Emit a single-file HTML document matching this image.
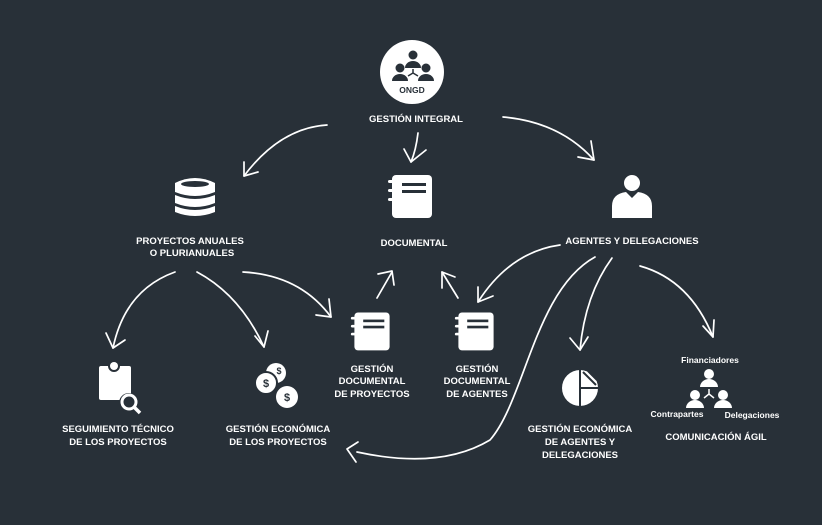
<!DOCTYPE html>
<html><head><meta charset="utf-8"><style>
html,body{margin:0;padding:0;background:#283038;}
svg{display:block}
text{font-family:"Liberation Sans",sans-serif;font-weight:bold;fill:#fff;font-size:9.5px;text-anchor:middle}
</style></head><body>
<svg width="822" height="525" viewBox="0 0 822 525" xmlns="http://www.w3.org/2000/svg">
<rect width="822" height="525" fill="#283038"/>
<g fill="none" stroke="#fff" stroke-width="1.7" stroke-linecap="round" stroke-linejoin="round">
<path d="M327,125 Q280,128 244,176"/><path d="M244,162 L244,176 L258,172"/>
<path d="M418,133 Q416,150 411,162"/><path d="M404,149 L411,162 L426,150"/>
<path d="M503,117 Q560,122 594,160"/><path d="M591,141 L594,160 L578,157"/>
<path d="M175,272 Q125,290 113,348"/><path d="M106,333 L113,348 L125,340"/>
<path d="M197,272 Q240,295 264,347"/><path d="M255,336 L264,347 L268,331"/>
<path d="M243,272 Q300,275 331,317"/><path d="M316,315 L331,317 L329,299"/>
<path d="M377,298 L392,272"/><path d="M378,274 L392,271 L394,285"/>
<path d="M458,298 L442,272"/><path d="M442,288 L442,272 L455,277"/>
<path d="M560,245 Q510,252 478,302"/><path d="M478,287 L478,302 L493,296"/>
<path d="M595,257 C535,290 525,400 490,440 Q440,470 357,452"/><path d="M358,442 L347,449 L356,462"/>
<path d="M612,258 Q585,295 580,350"/><path d="M570,338 L580,350 L588,337"/>
<path d="M640,266 Q690,280 713,337"/><path d="M703,326 L713,337 L714,320"/>
</g>
<g fill="#fff">
<circle cx="412" cy="72" r="32"/>
<g fill="#283038">
<circle cx="413" cy="55" r="4.5"/><path d="M405,68 a8,7 0 0 1 16,0z"/>
<circle cx="400" cy="68" r="4.5"/><path d="M392,81 a8,7 0 0 1 16,0z"/>
<circle cx="426" cy="68" r="4.5"/><path d="M418,81 a8,7 0 0 1 16,0z"/>
<path d="M413,69 L413,73 L408,76 M413,73 L418,76" stroke="#283038" stroke-width="1.5" fill="none"/>
<text x="412" y="93" style="fill:#283038;font-size:8.5px">ONGD</text>
</g>
<!-- database -->
<path d="M175,183 q20,-10 40,0 v9 q-20,8 -40,0z"/>
<path d="M175,195 q20,8 40,0 v8 q-20,8 -40,0z"/>
<path d="M175,206 q20,8 40,0 v6 q-20,8 -40,0z"/>
<ellipse cx="195" cy="184" rx="14" ry="3" fill="#283038"/>
<!-- notebooks -->
<rect x="392" y="175" width="40" height="43" rx="4"/>
<rect x="388" y="180" width="8" height="3" rx="1.5"/><rect x="388" y="189" width="8" height="3" rx="1.5"/><rect x="388" y="198" width="8" height="3" rx="1.5"/>
<rect x="402" y="183" width="24" height="3" fill="#283038"/><rect x="402" y="190" width="24" height="3" fill="#283038"/>
<g transform="translate(372,331) scale(0.88) translate(-412,-196)"><rect x="392" y="175" width="40" height="43" rx="4"/><rect x="388" y="180" width="8" height="3" rx="1.5"/><rect x="388" y="189" width="8" height="3" rx="1.5"/><rect x="388" y="198" width="8" height="3" rx="1.5"/><rect x="402" y="183" width="24" height="3" fill="#283038"/><rect x="402" y="190" width="24" height="3" fill="#283038"/></g>
<g transform="translate(476,331) scale(0.88) translate(-412,-196)"><rect x="392" y="175" width="40" height="43" rx="4"/><rect x="388" y="180" width="8" height="3" rx="1.5"/><rect x="388" y="189" width="8" height="3" rx="1.5"/><rect x="388" y="198" width="8" height="3" rx="1.5"/><rect x="402" y="183" width="24" height="3" fill="#283038"/><rect x="402" y="190" width="24" height="3" fill="#283038"/></g>
<!-- agent -->
<circle cx="632" cy="183" r="8"/>
<path d="M612,218 v-12 q0,-12 14,-14 l6,6 l6,-6 q14,2 14,14 v12z"/>
<!-- seguimiento -->
<rect x="99" y="366" width="32" height="34" rx="2"/>
<circle cx="114" cy="366" r="6" fill="#283038"/><circle cx="114" cy="366" r="4"/>
<circle cx="129" cy="403" r="10" fill="#283038"/>
<circle cx="129" cy="402" r="7" fill="none" stroke="#fff" stroke-width="3"/>
<path d="M134,407 L140,413" stroke="#fff" stroke-width="3.5"/>
<!-- coins -->
<circle cx="276" cy="373" r="10"/><circle cx="266" cy="383" r="11" stroke="#283038" stroke-width="2"/><circle cx="287" cy="397" r="11"/>
<text x="266" y="387" style="fill:#283038;font-size:11px">$</text><text x="287" y="401" style="fill:#283038;font-size:11px">$</text><text x="279" y="374" style="fill:#283038;font-size:9px">$</text>
<!-- pie -->
<circle cx="580" cy="388" r="18"/>
<path d="M580,388 L580,370 M580,388 L580,406 M580,388 L598,388" stroke="#283038" stroke-width="2"/>
<path d="M583,372 L596,385 M588,371 L597,380" stroke="#283038" stroke-width="2"/>
<!-- comunicacion -->
<circle cx="709" cy="374" r="5"/><path d="M700,387 a9,8 0 0 1 18,0z"/>
<circle cx="695" cy="395" r="5"/><path d="M686,408 a9,8 0 0 1 18,0z"/>
<circle cx="723" cy="395" r="5"/><path d="M714,408 a9,8 0 0 1 18,0z"/>
<path d="M709,389 v5 l-5,4 M709,394 l5,4" stroke="#fff" stroke-width="1.5" fill="none"/>
</g>
<text x="416" y="122">GESTIÓN INTEGRAL</text>
<text x="190" y="244">PROYECTOS ANUALES</text><text x="192" y="256">O PLURIANUALES</text>
<text x="414" y="246">DOCUMENTAL</text>
<text x="632" y="244">AGENTES Y DELEGACIONES</text>
<text x="118" y="432">SEGUIMIENTO TÉCNICO</text><text x="118" y="445">DE LOS PROYECTOS</text>
<text x="278" y="432">GESTIÓN ECONÓMICA</text><text x="278" y="445">DE LOS PROYECTOS</text>
<text x="372" y="372">GESTIÓN</text><text x="372" y="384">DOCUMENTAL</text><text x="372" y="397">DE PROYECTOS</text>
<text x="477" y="372">GESTIÓN</text><text x="477" y="384">DOCUMENTAL</text><text x="477" y="397">DE AGENTES</text>
<text x="580" y="432">GESTIÓN ECONÓMICA</text><text x="580" y="445">DE AGENTES Y</text><text x="580" y="458">DELEGACIONES</text>
<text x="710" y="363" style="font-size:8.5px">Financiadores</text>
<text x="677" y="417" style="font-size:8.5px">Contrapartes</text>
<text x="752" y="418" style="font-size:8.5px">Delegaciones</text>
<text x="716" y="440">COMUNICACIÓN ÁGIL</text>
</svg>
</body></html>
